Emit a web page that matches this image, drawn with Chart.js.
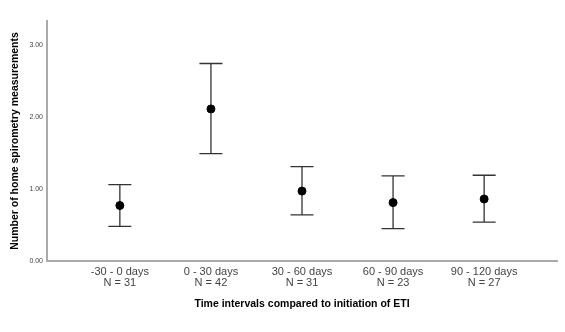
<!DOCTYPE html>
<html>
<head>
<meta charset="utf-8">
<script src="https://cdn.jsdelivr.net/npm/chart.js@4"></script>
<style>
html, body { margin:0; padding:0; background:#fff; }
#wrap { position:relative; width:565px; height:332px; }
</style>
</head>
<body>
<div id="wrap"><canvas id="c"></canvas></div>
<script>
const categories = ['-30 - 0 days', '0 - 30 days', '30 - 60 days', '60 - 90 days', '90 - 120 days'];
const counts = [31, 42, 31, 23, 27];
const means = [0.77, 2.11, 0.97, 0.81, 0.86];
const upper = [1.06, 2.74, 1.31, 1.18, 1.19];
const lower = [0.48, 1.49, 0.64, 0.45, 0.54];
const yTicks = [0, 1, 2, 3];

// whiskers drawn under the points
const errorBars = {
	id: 'errorBars',
	beforeDatasetsDraw(chart) {
		const {ctx, scales:{x, y}} = chart;
		ctx.save();
		ctx.strokeStyle = '#333';
		ctx.lineWidth = 1.3;
		means.forEach((m, i) => {
			const px = x.getPixelForValue(i);
			const top = y.getPixelForValue(upper[i]);
			const bot = y.getPixelForValue(lower[i]);
			ctx.beginPath();
			ctx.moveTo(px, top); ctx.lineTo(px, bot);
			ctx.moveTo(px - 11.5, top); ctx.lineTo(px + 11.5, top);
			ctx.moveTo(px - 11.5, bot); ctx.lineTo(px + 11.5, bot);
			ctx.stroke();
		});
		ctx.restore();
	}
};

new Chart(document.getElementById('c'), {
	type: 'scatter',
	data: {
		datasets: [{
			data: means.map((m, i) => ({x:i, y:m})),
			backgroundColor: '#000',
			borderColor: '#000',
			pointRadius: 4,
		}]
	},
	options: {
		responsive: true,
		maintainAspectRatio: false,
		animation: false,
		layout: { padding: {top:21, right:8, left:0, bottom:0} },
		plugins: { legend: {display:false}, tooltip: {enabled:false} },
		scales: {
			x: {
				type: 'linear',
				min: -0.8,
				max: 4.8,
				afterBuildTicks: s => { s.ticks = categories.map((c, i) => ({value:i})); },
				afterFit: s => { s.height = 71; },
				grid: { display:false, drawTicks:false, tickLength:0 },
				border: { display:true, color:'#aaa', width:2 },
				ticks: {
					padding: 5,
					color: '#444',
					font: { family:'Liberation Sans', size:11, lineHeight:1.0 },
					maxRotation: 0,
					autoSkip: false,
					callback: v => [categories[v], 'N = ' + counts[v]],
				},
				title: {
					display: true,
					text: 'Time intervals compared to initiation of ETI',
					color: '#000',
					font: { family:'Liberation Sans', size:10.5, weight:'bold' },
					padding: {top:8, bottom:22},
				},
			},
			y: {
				min: 0,
				max: 3.33,
				afterBuildTicks: s => { s.ticks = yTicks.map(v => ({value:v})); },
				afterFit: s => { s.width = 47; },
				grid: { display:false, drawTicks:false, tickLength:0 },
				border: { display:true, color:'#aaa', width:2 },
				ticks: {
					padding: 4,
					color: '#444',
					font: { family:'Liberation Sans', size:7 },
					callback: v => v.toFixed(2),
				},
				title: {
					display: true,
					text: 'Number of home spirometry measurements',
					color: '#000',
					font: { family:'Liberation Sans', size:10.5, weight:'bold' },
					padding: {top:9},
				},
			},
		},
	},
	plugins: [errorBars],
});
</script>
</body>
</html>
